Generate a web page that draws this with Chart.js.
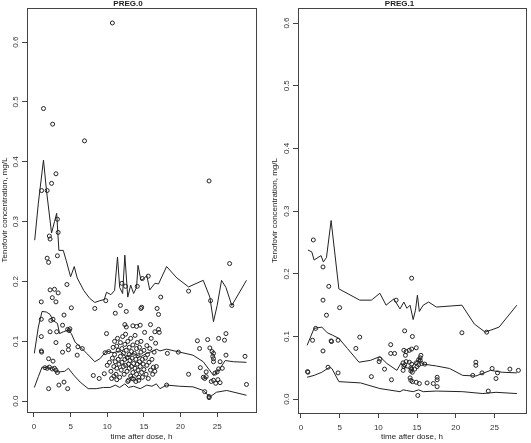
<!DOCTYPE html>
<html>
<head>
<meta charset="utf-8">
<script src="https://cdn.jsdelivr.net/npm/chart.js@4"></script>
<style>
  body { margin: 0; background: #fff; }
  #wrap { position: relative; width: 531px; height: 443px; }
  canvas { position: absolute; top: 0; }
</style>
</head>
<body>
<div id="wrap">
  <canvas id="preg0" width="265" height="443" style="left:0;width:265px;height:443px"></canvas>
  <canvas id="preg1" width="266" height="443" style="left:265px;width:266px;height:443px"></canvas>
</div>
<script>
// tick values
const xTickValues = [0, 5, 10, 15, 20, 25];
const yTickValues = [0, 0.1, 0.2, 0.3, 0.4, 0.5, 0.6];

// PREG.0 observed concentrations (time h, conc mg/L)
const preg0ObsTime = [
  10.7, 1.3, 2.55, 6.9, 3.0, 2.4, 1.05, 1.8, 23.9, 3.2, 2.1, 2.2, 3.3, 3.2, 1.8, 2.0, 26.7,
  4.5, 2.2, 2.8, 3.3, 2.5, 3.0, 1.0, 5.1, 8.3, 17.3, 21.1, 12.0, 12.5, 14.1, 14.8, 15.6, 24.1, 27.0,
  4.1, 1.0, 2.3, 2.6, 3.9, 2.2, 3.1, 4.6, 4.8, 4.9, 1.0, 3.0, 4.7, 4.7, 6.0, 6.6, 3.9, 5.9, 1.0, 1.05,
  2.0, 2.6, 1.5, 1.8, 2.1, 2.5, 2.8, 3.0, 3.2, 8.1, 8.9, 9.6, 2.0, 3.4, 4.1, 4.6,
  9.8, 11.1, 11.8, 12.6, 14.6, 14.7, 16.8, 17.0, 9.9, 9.7, 10.6, 12.4, 12.6, 13.5, 14.0, 14.5, 15.9, 17.0, 17.1, 16.5,
  10.0, 10.2, 10.3, 10.5, 10.7, 10.8, 10.9, 11.0, 11.0, 11.1, 11.2, 11.3, 11.3, 11.4, 11.5, 11.5, 11.6, 11.7,
  11.8, 11.8, 11.9, 12.0, 12.0, 12.1, 12.2, 12.2, 12.3, 12.4, 12.4, 12.5, 12.5, 12.6, 12.7, 12.7, 12.8, 12.8,
  12.9, 13.0, 13.0, 13.0, 13.1, 13.2, 13.2, 13.3, 13.3, 13.4, 13.5, 13.5, 13.6, 13.6, 13.7, 13.8, 13.8, 13.9,
  14.0, 14.0, 14.1, 14.1, 14.2, 14.2, 14.3, 14.4, 14.4, 14.5, 14.6, 14.6, 14.7, 14.8, 14.8, 14.9, 15.0, 15.0,
  15.1, 15.2, 15.3, 15.4, 15.4, 15.5, 15.6, 15.7, 15.8, 15.9, 16.0, 16.1, 16.2, 16.3, 16.4, 16.5, 16.6, 16.7,
  12.9, 13.4, 13.9, 14.3, 10.9, 11.3,
  18.2, 19.7, 22.3, 23.7, 25.2, 26.0, 26.2, 22.6, 24.0, 24.3, 24.5, 24.4, 24.5, 26.2, 28.8, 24.5, 25.4, 25.7,
  25.2, 22.7, 23.5, 21.1, 24.7, 25.0, 23.1, 23.3, 23.5, 24.2, 24.5, 24.8, 25.1, 25.4, 18.1, 29.0, 23.3, 23.9, 23.9
];
const preg0ObsConc = [
  0.632, 0.489, 0.463, 0.435, 0.38, 0.364, 0.352, 0.352, 0.368, 0.304, 0.276, 0.271, 0.282, 0.243, 0.239, 0.232, 0.23,
  0.195, 0.186, 0.187, 0.181, 0.173, 0.166, 0.166, 0.156, 0.155, 0.174, 0.184, 0.197, 0.192, 0.192, 0.205, 0.209, 0.168, 0.16,
  0.144, 0.137, 0.135, 0.137, 0.127, 0.116, 0.116, 0.12, 0.118, 0.121, 0.108, 0.098, 0.093, 0.086, 0.091, 0.088, 0.082, 0.077, 0.084, 0.082,
  0.071, 0.067, 0.056, 0.055, 0.057, 0.054, 0.055, 0.052, 0.048, 0.043, 0.038, 0.046, 0.021, 0.027, 0.032, 0.021,
  0.168, 0.147, 0.16, 0.15, 0.155, 0.157, 0.155, 0.145, 0.113, 0.081, 0.038, 0.128, 0.124, 0.126, 0.125, 0.127, 0.128, 0.12, 0.115, 0.116,
  0.06, 0.083, 0.065, 0.05, 0.072, 0.09, 0.058, 0.1, 0.078, 0.066, 0.045, 0.092, 0.055, 0.105, 0.07, 0.085, 0.062, 0.04,
  0.098, 0.075, 0.052, 0.088, 0.065, 0.108, 0.058, 0.08, 0.045, 0.095, 0.07, 0.06, 0.112, 0.085, 0.05, 0.073, 0.033, 0.1,
  0.062, 0.09, 0.055, 0.078, 0.068, 0.042, 0.105, 0.083, 0.058, 0.072, 0.048, 0.094, 0.063, 0.037, 0.08, 0.055, 0.11, 0.07,
  0.088, 0.045, 0.062, 0.098, 0.052, 0.076, 0.035, 0.066, 0.09, 0.058, 0.082, 0.1, 0.048, 0.07, 0.04, 0.062, 0.085, 0.053,
  0.115, 0.072, 0.045, 0.093, 0.06, 0.078, 0.038, 0.065, 0.088, 0.052, 0.105, 0.07, 0.045, 0.057, 0.082, 0.05, 0.097, 0.058,
  0.035, 0.038, 0.033, 0.04, 0.042, 0.036,
  0.08, 0.082, 0.101, 0.103, 0.105, 0.102, 0.113, 0.088, 0.089, 0.083, 0.08, 0.075, 0.071, 0.077, 0.075, 0.066, 0.066, 0.055,
  0.054, 0.056, 0.049, 0.045, 0.047, 0.049, 0.04, 0.038, 0.041, 0.033, 0.035, 0.03, 0.036, 0.031, 0.027, 0.028, 0.016, 0.006, 0.008
];

// PREG.0 prediction lines: 95th, 50th, 5th percentiles
const preg0HiTime = [0.1, 0.6, 1.3, 1.7, 2.4, 2.8, 3.1, 3.4, 4.0, 4.4, 5.0, 5.5, 5.9, 6.8, 7.6, 8.3, 9.0, 9.6, 9.9, 10.5, 11.0, 11.4, 11.7, 12.1, 12.4, 12.8, 13.2, 13.6, 14.0, 14.2, 14.6, 15.0, 15.4, 15.8, 16.5, 17.0, 18.1, 19.5, 21.1, 23.1, 24.0, 24.5, 25.0, 25.6, 26.2, 27.0, 29.0];
const preg0Hi     = [0.269, 0.331, 0.403, 0.353, 0.281, 0.30, 0.314, 0.252, 0.252, 0.235, 0.208, 0.225, 0.206, 0.185, 0.172, 0.165, 0.168, 0.17, 0.182, 0.178, 0.185, 0.241, 0.19, 0.18, 0.244, 0.174, 0.194, 0.18, 0.19, 0.227, 0.202, 0.205, 0.21, 0.186, 0.197, 0.196, 0.225, 0.206, 0.191, 0.202, 0.174, 0.133, 0.16, 0.202, 0.19, 0.16, 0.202];
const preg0MidTime = [0.05, 0.6, 1.1, 1.7, 2.2, 2.6, 3.2, 3.5, 4.0, 4.7, 5.1, 5.6, 6.3, 7.2, 8.3, 9.0, 9.9, 10.8, 11.7, 12.6, 13.6, 14.5, 15.4, 16.3, 16.7, 17.2, 18.1, 19.9, 21.7, 23.1, 24.5, 25.4, 26.1, 27.2, 29.0];
const preg0Mid     = [0.08, 0.124, 0.15, 0.149, 0.145, 0.135, 0.13, 0.113, 0.116, 0.119, 0.113, 0.099, 0.091, 0.08, 0.066, 0.071, 0.084, 0.081, 0.084, 0.074, 0.08, 0.074, 0.08, 0.084, 0.087, 0.084, 0.087, 0.082, 0.077, 0.066, 0.043, 0.055, 0.068, 0.066, 0.065];
const preg0LoTime = [0.05, 0.6, 1.1, 1.7, 2.4, 2.9, 3.5, 4.2, 4.7, 5.4, 6.3, 7.4, 8.5, 9.5, 10.4, 11.1, 11.7, 12.4, 12.9, 13.6, 14.5, 15.4, 16.1, 16.7, 17.2, 18.1, 19.9, 21.7, 23.1, 24.0, 24.9, 26.3, 29.0];
const preg0Lo     = [0.023, 0.041, 0.057, 0.056, 0.055, 0.049, 0.049, 0.05, 0.055, 0.044, 0.032, 0.021, 0.021, 0.023, 0.023, 0.027, 0.023, 0.029, 0.023, 0.025, 0.021, 0.027, 0.025, 0.029, 0.021, 0.027, 0.025, 0.024, 0.018, 0.007, 0.015, 0.018, 0.010];

// PREG.1 observed concentrations
const preg1ObsTime = [
  1.6, 2.85, 3.6, 14.3, 2.85, 12.3, 5.0, 3.3, 1.5, 1.9, 3.9, 3.95, 4.8, 2.85, 7.6, 7.1, 13.4, 14.4, 11.6, 11.6, 12.1,
  10.1, 10.2, 10.8, 9.1, 11.7, 0.9, 0.85, 3.5, 4.8,
  13.3, 13.6, 14.0, 14.3, 14.9, 13.2, 13.6, 14.0, 14.3, 13.4, 14.9, 15.2, 15.4, 15.5, 14.2, 14.3, 14.4, 14.7, 15.0, 15.2,
  14.1, 14.2, 14.4, 14.9, 15.3, 14.2, 15.4, 15.6, 13.5, 13.2, 13.3,
  15.1, 16.0, 16.3, 17.1, 17.6, 17.6, 17.6, 20.8, 22.2, 22.6, 22.6, 24.0, 23.4, 24.7, 25.2, 25.4, 27.0, 28.1, 24.2
];
const preg1ObsConc = [
  0.254, 0.211, 0.18, 0.193, 0.158, 0.158, 0.146, 0.134, 0.094, 0.113, 0.093, 0.092, 0.094, 0.077, 0.099, 0.081, 0.109, 0.1, 0.087, 0.073, 0.073,
  0.06, 0.064, 0.048, 0.036, 0.031, 0.043, 0.044, 0.051, 0.042,
  0.078, 0.076, 0.078, 0.08, 0.082, 0.058, 0.06, 0.059, 0.056, 0.055, 0.058, 0.063, 0.066, 0.07, 0.05, 0.048, 0.043, 0.048, 0.052, 0.055,
  0.034, 0.03, 0.028, 0.027, 0.025, 0.045, 0.062, 0.057, 0.07, 0.046, 0.052,
  0.006, 0.056, 0.026, 0.025, 0.035, 0.031, 0.02, 0.106, 0.038, 0.059, 0.054, 0.107, 0.042, 0.049, 0.033, 0.042, 0.048, 0.046, 0.013
];

// PREG.1 prediction lines
const preg1HiTime = [0.9, 1.4, 1.7, 2.2, 2.6, 2.9, 3.3, 3.9, 4.9, 7.6, 9.1, 10.2, 11.0, 12.0, 12.8, 13.3, 13.7, 14.1, 14.5, 14.8, 15.05, 15.3, 15.8, 16.5, 17.5, 20.8, 22.4, 23.8, 25.6, 27.9];
const preg1Hi     = [0.238, 0.235, 0.222, 0.226, 0.229, 0.219, 0.226, 0.285, 0.176, 0.158, 0.158, 0.169, 0.15, 0.16, 0.144, 0.155, 0.145, 0.15, 0.127, 0.142, 0.166, 0.14, 0.15, 0.155, 0.147, 0.15, 0.12, 0.107, 0.115, 0.15];
const preg1MidTime = [0.8, 1.7, 2.7, 3.4, 4.1, 4.9, 6.0, 7.5, 9.0, 10.2, 11.1, 12.4, 12.9, 13.3, 14.1, 15.1, 15.8, 17.5, 19.2, 20.9, 22.6, 24.5, 26.0, 27.9];
const preg1Mid     = [0.086, 0.113, 0.115, 0.106, 0.102, 0.097, 0.081, 0.059, 0.062, 0.068, 0.057, 0.046, 0.057, 0.051, 0.049, 0.062, 0.056, 0.053, 0.049, 0.038, 0.037, 0.046, 0.043, 0.042];
const preg1LoTime = [0.8, 1.7, 2.7, 3.7, 4.0, 4.9, 7.7, 10.2, 12.8, 13.2, 13.6, 14.5, 15.2, 15.8, 17.5, 20.9, 23.5, 25.2, 27.9];
const preg1Lo     = [0.035, 0.038, 0.043, 0.051, 0.049, 0.028, 0.026, 0.017, 0.012, 0.015, 0.014, 0.012, 0.015, 0.012, 0.013, 0.012, 0.009, 0.011, 0.009];

const FONT = '"Liberation Sans", Arial, sans-serif';
const INK = '#222';

const boxPlugin = {
  id: 'box',
  afterDraw(chart) {
    const a = chart.chartArea, c = chart.ctx;
    c.save();
    c.strokeStyle = '#444';
    c.lineWidth = 1;
    c.strokeRect(Math.round(a.left) + 0.5, Math.round(a.top) + 0.5,
      Math.round(a.right - a.left), Math.round(a.bottom - a.top));
    c.restore();
  }
};

function pairs(xs, ys) {
  return xs.map((x, i) => ({ x: x, y: ys[i] }));
}

function lineSet(xs, ys) {
  return {
    data: pairs(xs, ys), showLine: true, pointRadius: 0,
    borderColor: INK, borderWidth: 1, tension: 0, fill: false
  };
}

function makePanel(id, title, obs, lines, cfg) {
  new Chart(document.getElementById(id).getContext('2d'), {
    type: 'scatter',
    data: {
      datasets: [
        { data: obs, pointStyle: 'circle', pointRadius: 2, pointBorderWidth: 1,
          pointBorderColor: INK, pointBackgroundColor: 'rgba(0,0,0,0)' },
        ...lines
      ]
    },
    options: {
      responsive: false,
      animation: false,
      devicePixelRatio: 1,
      layout: { padding: cfg.padding },
      plugins: {
        legend: { display: false },
        tooltip: { enabled: false },
        title: {
          display: true, text: title, color: INK,
          font: { family: FONT, size: 8, weight: 'bold', lineHeight: 1 },
          padding: 0
        }
      },
      scales: {
        x: {
          type: 'linear', min: cfg.xMin, max: cfg.xMax,
          afterBuildTicks: s => { s.ticks = xTickValues.map(v => ({ value: v })); },
          afterFit: s => { s.height = cfg.xHeight; },
          ticks: { autoSkip: false, maxRotation: 0, padding: 5, color: '#333',
                   font: { family: FONT, size: 8 }, callback: v => String(v) },
          grid: { drawOnChartArea: false, tickLength: 5, color: '#444' },
          border: { color: '#444' },
          title: { display: true, text: 'time after dose, h', color: INK,
                   font: { family: FONT, size: 8 }, padding: 0 }
        },
        y: {
          type: 'linear', min: cfg.yMin, max: cfg.yMax,
          afterBuildTicks: s => { s.ticks = yTickValues.map(v => ({ value: v })); },
          afterFit: s => { s.width = cfg.yWidth; },
          ticks: { minRotation: 90, maxRotation: 90, crossAlign: 'center', padding: 1, color: '#333',
                   font: { family: FONT, size: 8 }, callback: v => v.toFixed(1) },
          grid: { drawOnChartArea: false, tickLength: 5, color: '#444' },
          border: { color: '#444' },
          title: { display: true, text: 'Tenofovir concentration, mg/L', color: INK,
                   font: { family: FONT, size: 8 }, padding: 0 }
        }
      }
    },
    plugins: [boxPlugin]
  });
}

makePanel('preg0', 'PREG.0', pairs(preg0ObsTime, preg0ObsConc),
  [lineSet(preg0HiTime, preg0Hi), lineSet(preg0MidTime, preg0Mid), lineSet(preg0LoTime, preg0Lo)],
  { padding: { left: 0, right: 9, top: 0, bottom: 1 }, xHeight: 30, yWidth: 27,
    xMin: -0.95, xMax: 30.3, yMin: -0.018, yMax: 0.657 });

makePanel('preg1', 'PREG.1', pairs(preg1ObsTime, preg1ObsConc),
  [lineSet(preg1HiTime, preg1Hi), lineSet(preg1MidTime, preg1Mid), lineSet(preg1LoTime, preg1Lo)],
  { padding: { left: 5, right: 2, top: 0, bottom: 1 }, xHeight: 29, yWidth: 28,
    xMin: -0.38, xMax: 29.08, yMin: -0.022, yMax: 0.624 });
</script>
</body>
</html>
